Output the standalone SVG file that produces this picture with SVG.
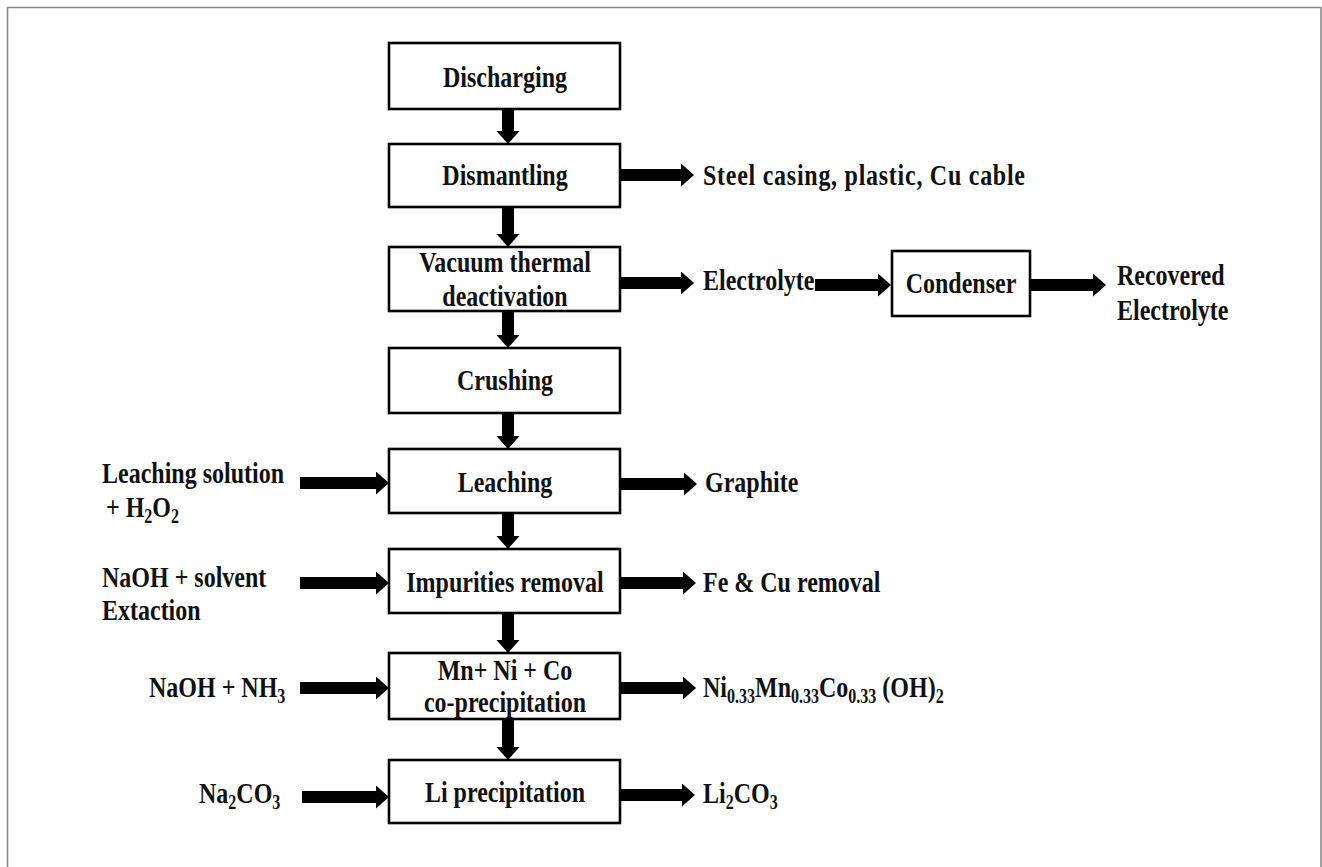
<svg xmlns="http://www.w3.org/2000/svg" width="1322" height="867" viewBox="0 0 1322 867">
<style>
.box{fill:#fff;stroke:#000;stroke-width:2.6}
.t{font-family:"Liberation Serif","Times New Roman",serif;font-weight:bold;font-size:24px;fill:#111}
.c{text-anchor:middle}
.sub{font-size:16px}
.ar{stroke:#000;stroke-width:12;fill:none}
.frame{fill:none;stroke:#8a8a8a;stroke-width:1.6}
</style>
<defs>
<marker id="ah" markerUnits="userSpaceOnUse" markerWidth="13" markerHeight="24" refX="0" refY="11.5" orient="auto" viewBox="0 0 13 24">
<path d="M0,0 L13,11.5 L0,23 z" fill="#000"/>
</marker>
</defs>
<rect width="1322" height="867" fill="#fff"/>
<path class="frame" d="M7.5,867 V7.5 H1321 V867"/>

<g id="connectors">
<line class="ar" x1="508" y1="110" x2="508" y2="131" marker-end="url(#ah)"/>
<line class="ar" x1="508" y1="208" x2="508" y2="234" marker-end="url(#ah)"/>
<line class="ar" x1="508" y1="312" x2="508" y2="335" marker-end="url(#ah)"/>
<line class="ar" x1="508" y1="414" x2="508" y2="436" marker-end="url(#ah)"/>
<line class="ar" x1="508" y1="514" x2="508" y2="536" marker-end="url(#ah)"/>
<line class="ar" x1="508" y1="614" x2="508" y2="640" marker-end="url(#ah)"/>
<line class="ar" x1="508" y1="720" x2="508" y2="747" marker-end="url(#ah)"/>

<line class="ar" x1="621" y1="175" x2="681" y2="175" marker-end="url(#ah)"/>
<line class="ar" x1="621" y1="283" x2="681" y2="283" marker-end="url(#ah)"/>
<line class="ar" x1="815" y1="285" x2="878" y2="285" marker-end="url(#ah)"/>
<line class="ar" x1="1031" y1="285" x2="1093" y2="285" marker-end="url(#ah)"/>
<line class="ar" x1="621" y1="484" x2="684" y2="484" marker-end="url(#ah)"/>
<line class="ar" x1="621" y1="583" x2="683" y2="583" marker-end="url(#ah)"/>
<line class="ar" x1="621" y1="688" x2="683" y2="688" marker-end="url(#ah)"/>
<line class="ar" x1="621" y1="795" x2="682" y2="795" marker-end="url(#ah)"/>

<line class="ar" x1="300" y1="483" x2="376" y2="483" marker-end="url(#ah)"/>
<line class="ar" x1="300" y1="583" x2="376" y2="583" marker-end="url(#ah)"/>
<line class="ar" x1="300" y1="688" x2="376" y2="688" marker-end="url(#ah)"/>
<line class="ar" x1="302" y1="797" x2="376" y2="797" marker-end="url(#ah)"/>
</g>

<g id="discharging">
<rect class="box" x="389" y="43" width="231" height="66"/>
<text class="t c" transform="translate(505,87) scale(1,1.25)">Discharging</text>
</g>
<g id="dismantling">
<rect class="box" x="389" y="144" width="231" height="63"/>
<text class="t c" transform="translate(505,185) scale(1,1.25)">Dismantling</text>
</g>
<g id="vacuum">
<rect class="box" x="389" y="247" width="231" height="64"/>
<text class="t c" transform="translate(505,272) scale(1,1.25)">Vacuum thermal</text>
<text class="t c" transform="translate(505,306) scale(1,1.25)">deactivation</text>
</g>
<g id="crushing">
<rect class="box" x="389" y="348" width="231" height="65"/>
<text class="t c" transform="translate(505,390) scale(1,1.25)">Crushing</text>
</g>
<g id="leaching">
<rect class="box" x="389" y="449" width="231" height="64"/>
<text class="t c" transform="translate(505,492) scale(1,1.25)">Leaching</text>
</g>
<g id="impurities">
<rect class="box" x="389" y="549" width="231" height="64"/>
<text class="t c" transform="translate(505,592) scale(1,1.25)">Impurities removal</text>
</g>
<g id="coprecip">
<rect class="box" x="389" y="653" width="231" height="66"/>
<text class="t c" transform="translate(505,680) scale(1,1.25)">Mn+ Ni + Co</text>
<text class="t c" transform="translate(505,712) scale(1,1.25)">co-precipitation</text>
</g>
<g id="liprecip">
<rect class="box" x="389" y="760" width="231" height="63"/>
<text class="t c" transform="translate(505,802) scale(1,1.25)">Li precipitation</text>
</g>
<g id="condenser">
<rect class="box" x="892" y="251" width="138" height="65"/>
<text class="t c" transform="translate(961,293) scale(1,1.25)">Condenser</text>
</g>

<g id="out-steel"><text class="t" transform="translate(703,185) scale(1,1.25)" textLength="322" lengthAdjust="spacing">Steel casing, plastic, Cu cable</text></g>
<g id="out-electrolyte"><text class="t" transform="translate(703,290) scale(1,1.25)">Electrolyte</text></g>
<g id="out-recovered">
<text class="t" transform="translate(1117,285) scale(1,1.25)">Recovered</text>
<text class="t" transform="translate(1117,320) scale(1,1.25)">Electrolyte</text>
</g>
<g id="out-graphite"><text class="t" transform="translate(705,492) scale(1,1.25)">Graphite</text></g>
<g id="out-fecu"><text class="t" transform="translate(703,592) scale(1,1.25)">Fe &amp; Cu removal</text></g>
<g id="out-nmc"><text class="t" transform="translate(703,697) scale(1,1.25)">Ni<tspan class="sub" dy="5">0.33</tspan><tspan dy="-5">Mn</tspan><tspan class="sub" dy="5">0.33</tspan><tspan dy="-5">Co</tspan><tspan class="sub" dy="5">0.33</tspan><tspan dy="-5"> (OH)</tspan><tspan class="sub" dy="5">2</tspan></text></g>
<g id="out-li2co3"><text class="t" transform="translate(703,803) scale(1,1.25)">Li<tspan class="sub" dy="5">2</tspan><tspan dy="-5">CO</tspan><tspan class="sub" dy="5">3</tspan></text></g>

<g id="in-leach">
<text class="t" transform="translate(102,483) scale(1,1.25)">Leaching solution</text>
<text class="t" transform="translate(106,517) scale(1,1.25)">+ H<tspan class="sub" dy="5">2</tspan><tspan dy="-5">O</tspan><tspan class="sub" dy="5">2</tspan></text>
</g>
<g id="in-naoh-solvent">
<text class="t" transform="translate(102,587) scale(1,1.25)">NaOH + solvent</text>
<text class="t" transform="translate(102,620) scale(1,1.25)">Extaction</text>
</g>
<g id="in-naoh-nh3"><text class="t" transform="translate(149,697) scale(1,1.25)">NaOH + NH<tspan class="sub" dy="5">3</tspan></text></g>
<g id="in-na2co3"><text class="t" transform="translate(199,803) scale(1,1.25)">Na<tspan class="sub" dy="5">2</tspan><tspan dy="-5">CO</tspan><tspan class="sub" dy="5">3</tspan></text></g>
</svg>
